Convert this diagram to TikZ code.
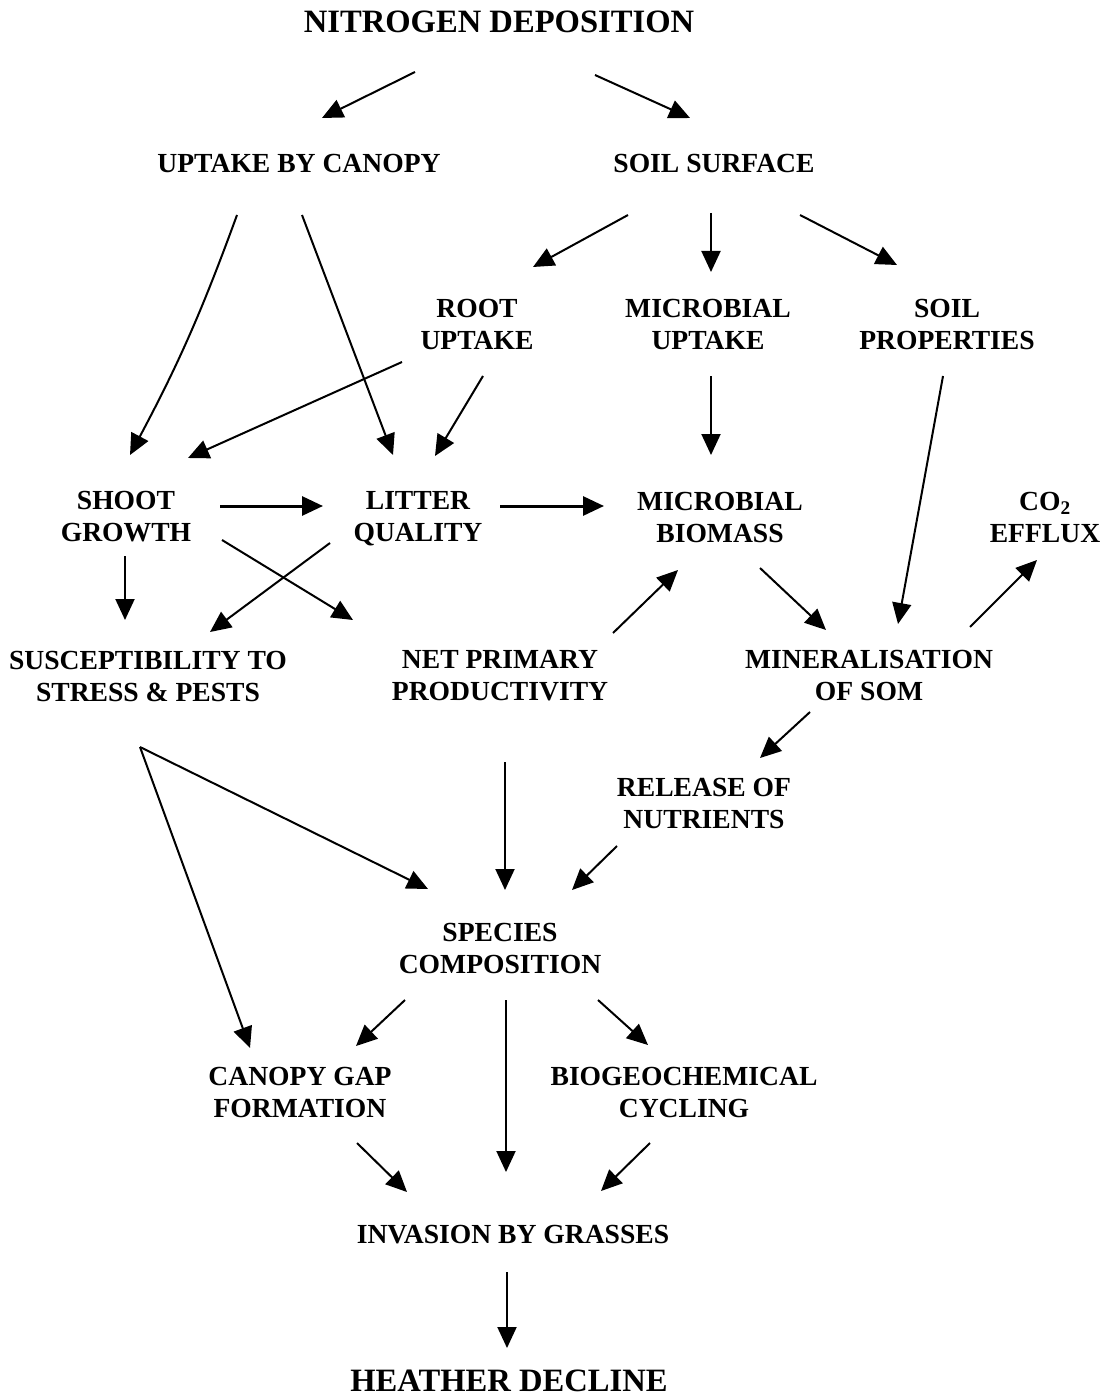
\documentclass[tikz,border=0pt]{standalone}
\usepackage{fontspec}
\setmainfont{Liberation Serif}
\usetikzlibrary{arrows.meta,calc}
\tikzset{
  lbl/.style={font=\bfseries\fontsize{27.6}{32}\selectfont, align=center, inner sep=0pt},
  ttl/.style={font=\bfseries\fontsize{32.6}{38}\selectfont, inner sep=0pt},
  arr/.style={line width=2pt, -{Triangle[length=21pt,width=19pt]}},
  harr/.style={arr, line width=3pt},
}
\begin{document}
\begin{tikzpicture}[x=1pt,y=-1pt]
\useasboundingbox (0,0) rectangle (1111,1396);
% nodes
\node[ttl] (nd) at (499,22) {NITROGEN DEPOSITION};
\node[lbl] (ubc) at (299,163) {UPTAKE BY CANOPY};
\node[lbl] (ss) at (714,163) {SOIL SURFACE};
\node[lbl] (root) at (477,324) {ROOT\\UPTAKE};
\node[lbl] (mu) at (708,324) {MICROBIAL\\UPTAKE};
\node[lbl] (sp) at (947,324) {SOIL\\PROPERTIES};
\node[lbl] (shoot) at (126,517) {SHOOT\\GROWTH};
\node[lbl] (litter) at (418,519) {LITTER\\QUALITY};
\node[lbl] (mb) at (720,517) {MICROBIAL\\BIOMASS};
\node[lbl] (co2) at (1045,517) {CO\textsubscript{2}\\EFFLUX};
\node[lbl] (susc) at (148,676) {SUSCEPTIBILITY TO\\STRESS \& PESTS};
\node[lbl] (npp) at (500,676) {NET PRIMARY\\PRODUCTIVITY};
\node[lbl] (min) at (869,675) {MINERALISATION\\OF SOM};
\node[lbl] (rel) at (704,803) {RELEASE OF\\NUTRIENTS};
\node[lbl] (spc) at (500,948) {SPECIES\\COMPOSITION};
\node[lbl] (cgf) at (300,1092) {CANOPY GAP\\FORMATION};
\node[lbl] (bio) at (684,1092) {BIOGEOCHEMICAL\\CYCLING};
\node[lbl] (inv) at (513,1235) {INVASION BY GRASSES};
\node[ttl] (hd) at (509,1381) {HEATHER DECLINE};
% connectors
\draw[arr] ($(nd)+(-84,50)$) -- ($(ubc)+(23,-45)$);
\draw[arr] ($(nd)+(96,53)$) -- ($(ss)+(-24,-45)$);
\draw[arr] ($(ubc)+(-62,52)$) to[bend left=4] ($(shoot)+(4,-62)$);
\draw[arr] ($(ubc)+(3,52)$) -- ($(litter)+(-25,-64)$);
\draw[arr] ($(ss)+(-86,52)$) -- ($(root)+(56,-57)$);
\draw[arr] ($(ss)+(-3,50)$) -- ($(mu)+(3,-52)$);
\draw[arr] ($(ss)+(86,52)$) -- ($(sp)+(-50,-59)$);
\draw[arr] ($(root)+(-75,38)$) -- ($(shoot)+(62,-59)$);
\draw[arr] ($(root)+(6,52)$) -- ($(litter)+(17,-63)$);
\draw[arr] ($(mu)+(3,52)$) -- ($(mb)+(-9,-62)$);
\draw[arr] ($(sp)+(-4,52)$) -- ($(min)+(29,-51)$);
\draw[harr] ($(shoot)+(94,-11)$) -- ($(litter)+(-95,-13)$);
\draw[harr] ($(litter)+(82,-13)$) -- ($(mb)+(-116,-11)$);
\draw[arr] ($(shoot)+(96,23)$) -- ($(npp)+(-147,-56)$);
\draw[arr] ($(litter)+(-88,24)$) -- ($(susc)+(62,-44)$);
\draw[arr] ($(shoot)+(-1,39)$) -- ($(susc)+(-23,-56)$);
\draw[arr] ($(npp)+(113,-43)$) -- ($(mb)+(-42,53)$);
\draw[arr] ($(mb)+(40,51)$) -- ($(min)+(-43,-45)$);
\draw[arr] ($(min)+(101,-48)$) -- ($(co2)+(-8,43)$);
\draw[arr] ($(min)+(-59,37)$) -- ($(rel)+(56,-45)$);
\coordinate (fork) at ($(susc)+(-8,71)$);
\draw[arr] (fork) -- ($(spc)+(-72,-59)$);
\draw[arr] (fork) -- ($(cgf)+(-50,-44)$);
\draw[arr] ($(npp)+(5,86)$) -- ($(spc)+(5,-58)$);
\draw[arr] ($(rel)+(-87,43)$) -- ($(spc)+(72,-58)$);
\draw[arr] ($(spc)+(-95,52)$) -- ($(cgf)+(56,-46)$);
\draw[arr] ($(spc)+(6,52)$) -- ($(inv)+(-7,-63)$);
\draw[arr] ($(spc)+(98,52)$) -- ($(bio)+(-36,-47)$);
\draw[arr] ($(cgf)+(57,51)$) -- ($(inv)+(-106,-43)$);
\draw[arr] ($(bio)+(-34,51)$) -- ($(inv)+(88,-44)$);
\draw[arr] ($(inv)+(-6,37)$) -- ($(hd)+(-2,-33)$);
\end{tikzpicture}
\end{document}
